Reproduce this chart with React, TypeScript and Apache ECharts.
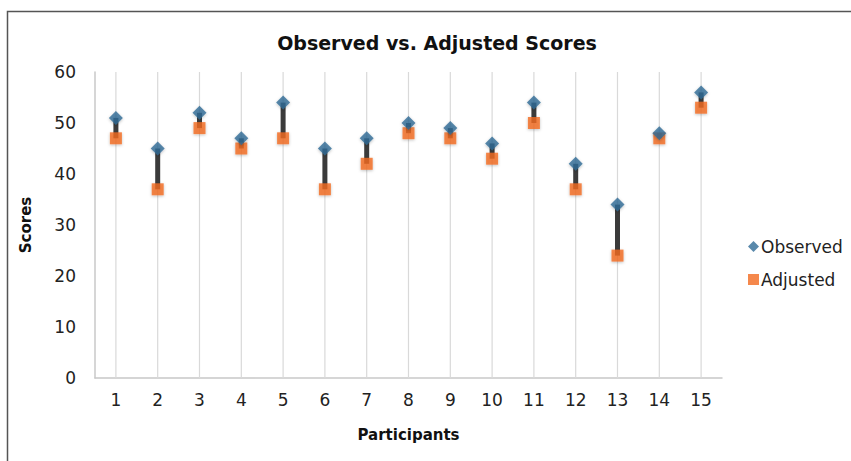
import React, { useEffect, useRef } from "react";
import * as echarts from "echarts";

const categories = ["1", "2", "3", "4", "5", "6", "7", "8", "9", "10", "11", "12", "13", "14", "15"];
const observed = [51, 45, 52, 47, 54, 45, 47, 50, 49, 46, 54, 42, 34, 48, 56];
const adjusted = [47, 37, 49, 45, 47, 37, 42, 48, 47, 43, 50, 37, 24, 47, 53];
const yTicks = [0, 10, 20, 30, 40, 50, 60];

const FONT = "'DejaVu Sans', sans-serif";
const BLUE = "#2f6b96";
const ORANGE = "#f26a1f";

export default function App() {
  const ref = useRef<HTMLDivElement>(null);
  useEffect(() => {
    if (!ref.current) return;
    const chart = echarts.init(ref.current, undefined, { renderer: "svg" });
    const yMax = yTicks[yTicks.length - 1];
    const option: any = {
      animation: false,
      backgroundColor: "#ffffff",
      title: {
        text: "Observed vs. Adjusted Scores",
        left: 432,
        top: 28,
        textAlign: "center",
        textStyle: { fontFamily: FONT, fontSize: 19, fontWeight: "bold", color: "#111" },
      },
      graphic: [
        {
          type: "rect",
          shape: { x: 7.5, y: 11.5, width: 900, height: 500 },
          style: { fill: "none", stroke: "#555", lineWidth: 1.5 },
          silent: true,
        },
      ],
      legend: {
        orient: "vertical",
        left: 743,
        top: 233,
        itemGap: 16,
        itemWidth: 11,
        itemHeight: 11,
        textStyle: { fontFamily: FONT, fontSize: 17, color: "#222", padding: [0, 0, 0, -3] },
        data: [
          { name: "Observed", icon: "diamond" },
          { name: "Adjusted", icon: "rect" },
        ],
      },
      grid: { left: 95, right: 129, top: 72, bottom: 83 },
      xAxis: {
        type: "category",
        data: categories,
        boundaryGap: true,
        name: "Participants",
        nameLocation: "middle",
        nameGap: 49,
        nameTextStyle: { fontFamily: FONT, fontSize: 15, fontWeight: "bold", color: "#111" },
        axisLine: { show: true, lineStyle: { color: "#c8c8c8", width: 1.5 } },
        axisTick: { show: false },
        axisLabel: { fontFamily: FONT, fontSize: 17, color: "#222", margin: 13 },
        splitLine: { show: false },
      },
      yAxis: {
        type: "value",
        min: 0,
        max: yMax,
        interval: 10,
        name: "Scores",
        nameLocation: "middle",
        nameGap: 62,
        nameTextStyle: { fontFamily: FONT, fontSize: 15, fontWeight: "bold", color: "#111" },
        axisLine: { show: true, lineStyle: { color: "#c8c8c8", width: 1.5 } },
        axisTick: { show: false },
        axisLabel: { fontFamily: FONT, fontSize: 17, color: "#222", margin: 19 },
        splitLine: { show: false },
      },
      series: [
        {
          type: "custom",
          name: "grid",
          silent: true,
          z: 1,
          data: categories.map((_, i) => [i]),
          encode: { x: 0 },
          renderItem: (params: any, api: any) => {
            const i = api.value(0);
            const p0 = api.coord([i, 0]);
            const p1 = api.coord([i, yMax]);
            return {
              type: "line",
              shape: { x1: p0[0], y1: p0[1], x2: p1[0], y2: p1[1] },
              style: { stroke: "#d9d9d9", lineWidth: 1.2 },
            };
          },
        },
        {
          type: "custom",
          name: "connector",
          silent: true,
          z: 2,
          data: categories.map((_, i) => [i, observed[i], adjusted[i]]),
          encode: { x: 0, y: [1, 2] },
          renderItem: (params: any, api: any) => {
            const i = api.value(0);
            const p0 = api.coord([i, api.value(1)]);
            const p1 = api.coord([i, api.value(2)]);
            return {
              type: "line",
              shape: { x1: p0[0], y1: p0[1], x2: p1[0], y2: p1[1] },
              style: { stroke: "#3b3b3b", lineWidth: 5 },
            };
          },
        },
        {
          type: "scatter",
          name: "Adjusted",
          z: 3,
          symbol: "rect",
          symbolSize: 12,
          data: adjusted,
          itemStyle: { color: ORANGE, shadowBlur: 3, shadowColor: "rgba(0,0,0,0.3)", shadowOffsetY: 1 },
        },
        {
          type: "scatter",
          name: "Observed",
          z: 4,
          symbol: "diamond",
          symbolSize: 14,
          data: observed,
          itemStyle: { color: BLUE, shadowBlur: 3, shadowColor: "rgba(0,0,0,0.3)", shadowOffsetY: 1 },
        },
      ],
    };
    chart.setOption(option);
    return () => chart.dispose();
  }, []);
  return (
    <div
      ref={ref}
      style={{ position: "fixed", left: 0, top: 0, width: 851, height: 461 }}
    />
  );
}
